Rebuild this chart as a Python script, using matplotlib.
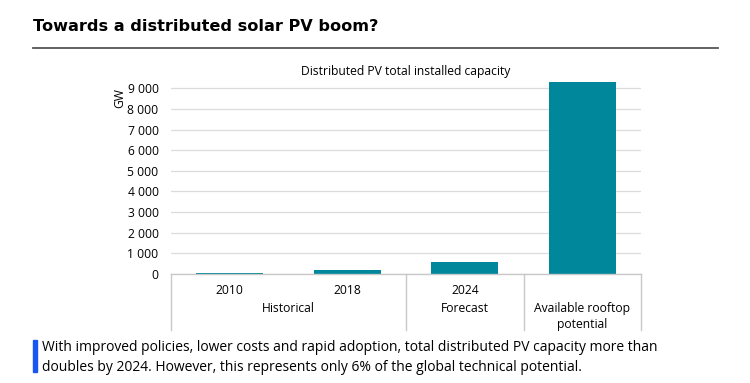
import matplotlib.pyplot as plt
import matplotlib.transforms as mtransforms

# data
years = ["2010", "2018", "2024", ""]
groups = ["Historical", "Forecast", "Available rooftop\npotential"]
group_pos = [0.5, 2, 3]
capacity_gw = [60, 210, 560, 9300]
yticks = [0, 1000, 2000, 3000, 4000, 5000, 6000, 7000, 8000, 9000]
ytick_labels = ["0", "1 000", "2 000", "3 000", "4 000", "5 000", "6 000", "7 000", "8 000", "9 000"]

bar_color = "#00879b"
grid_color = "#dcdcdc"
axis_color = "#c8c8c8"
font = ["Open Sans", "DejaVu Sans"]

plt.rcParams["font.family"] = font

fig = plt.figure(figsize=(7.5, 3.83), dpi=100)
ax = fig.add_axes([0.228, 0.2846, 0.6267, 0.5117])

x = list(range(len(capacity_gw)))
ax.bar(x, capacity_gw, width=0.57, color=bar_color, zorder=3)

ax.set_xlim(-0.5, 3.5)
ax.set_ylim(0, 9500)
ax.set_yticks(yticks)
ax.set_yticklabels(ytick_labels, fontsize=8.7)
ax.set_xticks(x)
ax.set_xticklabels(years, fontsize=8.7)
ax.tick_params(axis="x", length=0, pad=7)
ax.tick_params(axis="y", length=0, pad=9)
ax.grid(axis="y", color=grid_color, linewidth=0.9, zorder=0)
for s in ["top", "right", "left"]:
    ax.spines[s].set_visible(False)
ax.spines["bottom"].set_color(axis_color)
ax.spines["bottom"].set_linewidth(1.0)
ax.spines["bottom"].set_zorder(4)

# category separators below the axis
trans = mtransforms.blended_transform_factory(ax.transData, ax.transAxes)
for sx in [-0.5, 1.5, 2.5, 3.5]:
    ax.plot([sx, sx], [0, -0.285], transform=trans, color=axis_color,
            linewidth=1.0, clip_on=False)
for gx, g in zip(group_pos, groups):
    ax.text(gx, -0.145, g, transform=trans, ha="center", va="top",
            fontsize=8.7, linespacing=1.3)

ax.text(-0.108, 0.9, "GW", transform=ax.transAxes, rotation=90,
        ha="center", va="center", fontsize=8.7)
ax.set_title("Distributed PV total installed capacity", fontsize=8.7, pad=1)

# header
fig.text(0.044, 0.93, "Towards a distributed solar PV boom?", fontsize=11.6,
         fontweight="bold", family=["DejaVu Sans"], ha="left", va="center")
fig.add_artist(plt.Line2D([0.044, 0.957], [0.875, 0.875], color="#555555",
                          linewidth=1.3))

# footer note
fig.add_artist(plt.Rectangle((0.044, 0.028), 0.005, 0.085, color="#1a56f0",
                             transform=fig.transFigure))
fig.text(0.056, 0.067,
         "With improved policies, lower costs and rapid adoption, total distributed PV capacity more than\n"
         "doubles by 2024. However, this represents only 6% of the global technical potential.",
         fontsize=10, ha="left", va="center", linespacing=1.4)

fig.savefig("out.png", dpi=100)
